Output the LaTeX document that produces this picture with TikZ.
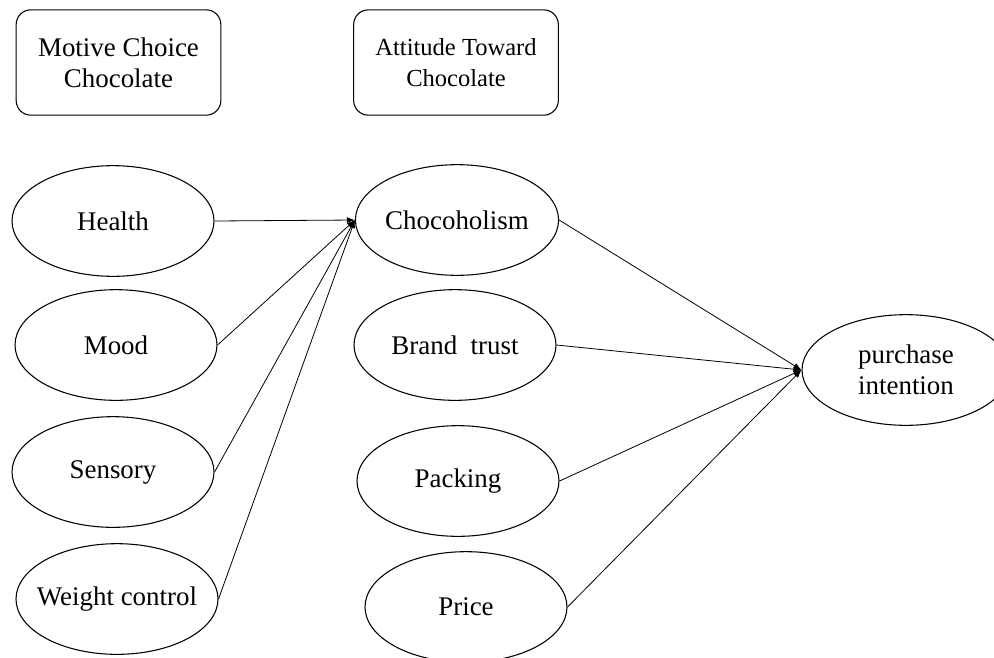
\documentclass[tikz,border=0pt]{standalone}
\usepackage{fontspec}
\setmainfont{Liberation Serif}
\usetikzlibrary{shapes.geometric,arrows.meta}
\begin{document}
\begin{tikzpicture}[x=0.75pt,y=-0.75pt,
  every node/.style={font=\fontsize{20.2pt}{23pt}\selectfont, align=center},
  hdrbox/.style={draw, line width=0.8pt, rounded corners=11pt, minimum width=153.5pt, minimum height=79pt, inner sep=0pt},
  oval/.style={draw, ellipse, line width=0.8pt, minimum width=151.5pt, minimum height=83pt, inner sep=0pt},
  conn/.style={line width=0.6pt, -{Latex[length=6pt,width=4.5pt]}}]
\useasboundingbox (0,0) rectangle (994,657);
\fill[white] (0,0) rectangle (994,657);
\node[hdrbox] (motive) at (118.5,62.5) {Motive Choice\\Chocolate};
\node[hdrbox, font=\fontsize{18.4pt}{23pt}\selectfont] (attitude) at (456,62.5) {Attitude Toward\\Chocolate};
\node[oval] (health) at (113,221) {Health};
\node[oval] (mood) at (116,345) {Mood};
\node[oval] (sensory) at (113,472) {Sensory};
\node[oval] (weight) at (117,599) {\makebox[0pt]{Weight control}};
\node[oval] (choc) at (457,220) {Chocoholism};
\node[oval] (brand) at (455,345) {Brand\ \ trust};
\node[oval] (packing) at (458,481) {Packing};
\node[oval] (price) at (466,607) {Price};
\node[oval, minimum width=156pt] (purchase) at (906,370) {purchase\\intention};
\draw[conn] (health.east) -- (choc.west);
\draw[conn] (mood.east) -- (choc.west);
\draw[conn] (sensory.east) -- (choc.west);
\draw[conn] (weight.east) -- (choc.west);
\draw[conn] (choc.east) -- (purchase.west);
\draw[conn] (brand.east) -- (purchase.west);
\draw[conn] (packing.east) -- (purchase.west);
\draw[conn] (price.east) -- (purchase.west);
\end{tikzpicture}
\end{document}
